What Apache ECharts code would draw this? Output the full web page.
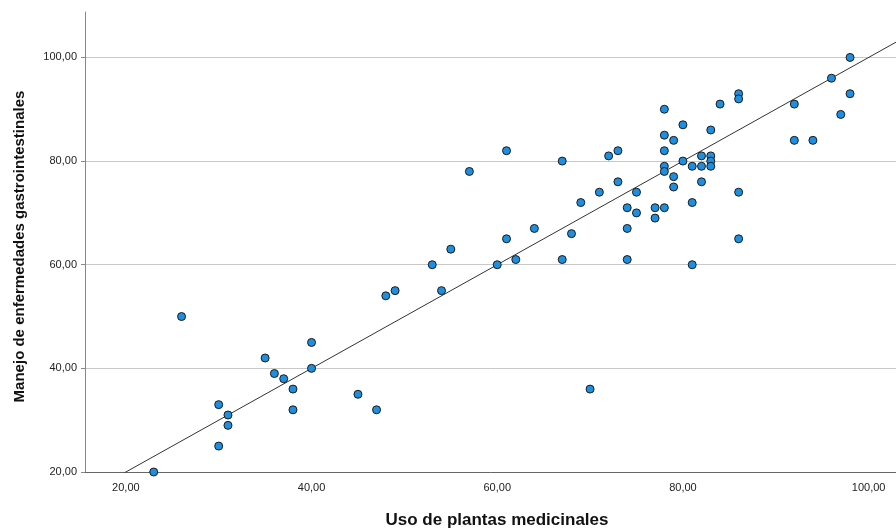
<!DOCTYPE html>
<html>
<head>
<meta charset="utf-8">
<script src="https://cdn.jsdelivr.net/npm/echarts@6/dist/echarts.min.js"></script>
<style>html,body{margin:0;padding:0;background:#fff}#c{width:896px;height:532px}</style>
</head>
<body>
<div id="c"></div>
<script>
// Data
const usoPlantas = [23,26,30,30,31,31,35,36,37,38,38,40,40,45,47,48,49,53,54,55,57,60,61,61,62,64,67,67,68,69,70,71,72,73,73,74,74,74,75,75,77,77,78,78,78,78,78,78,79,79,79,80,80,81,81,81,82,82,82,83,83,83,83,84,86,86,86,86,92,92,94,96,97,98,98];
const manejoGastro = [20,50,33,25,31,29,42,39,38,36,32,45,40,35,32,54,55,60,55,63,78,60,65,82,61,67,80,61,66,72,36,74,81,82,76,71,67,61,74,70,71,69,71,90,85,82,79,78,84,77,75,87,80,79,72,60,81,79,76,86,81,80,79,91,93,92,74,65,91,84,84,96,89,100,93];
const xTicks = [20,40,60,80,100];
const yTicks = [20,40,60,80,100];
const fitIntercept = 0;
const fitSlope = 1.0;
const xTitle = 'Uso de plantas medicinales';
const yTitle = 'Manejo de enfermedades gastrointestinales';

const xMin = 15.6, xMax = 102.95, yMin = 20, yMax = 108.77;
const points = usoPlantas.map((x, i) => [x, manejoGastro[i]]);
const fitLine = [[xMin, fitIntercept + fitSlope * xMin], [xMax, fitIntercept + fitSlope * xMax]];
const fmt = v => v.toFixed(2).replace('.', ',');

const chart = echarts.init(document.getElementById('c'), null, {renderer: 'canvas'});
chart.setOption({
  animation: false,
  backgroundColor: '#ffffff',
  grid: {left: 85, right: 0, top: 12, bottom: 60, containLabel: false, outerBoundsMode: 'none'},
  xAxis: {
    type: 'value', min: xMin, max: xMax,
    name: xTitle, nameLocation: 'middle', nameGap: 40,
    nameTextStyle: {fontFamily: 'Liberation Sans', fontSize: 17, fontWeight: 'bold', color: '#111', padding: [0, 0, 0, 13]},
    axisLine: {show: true, lineStyle: {color: '#666', width: 1}},
    axisTick: {show: false},
    axisLabel: {customValues: xTicks, formatter: fmt, fontFamily: 'Liberation Sans', fontSize: 11, color: '#222', margin: 10},
    splitLine: {show: false}
  },
  yAxis: {
    type: 'value', min: yMin, max: yMax,
    name: yTitle, nameLocation: 'middle', nameGap: 58, nameRotate: 90,
    nameTextStyle: {fontFamily: 'Liberation Sans', fontSize: 15, fontWeight: 'bold', color: '#111', padding: [0, 9, 0, 0]},
    axisLine: {show: true, lineStyle: {color: '#888', width: 1}},
    axisTick: {show: true, customValues: yTicks, length: 4, lineStyle: {color: '#888'}},
    axisLabel: {customValues: yTicks, formatter: fmt, fontFamily: 'Liberation Sans', fontSize: 11, color: '#222', margin: 8},
    splitLine: {show: true, lineStyle: {color: '#c8c8c8', width: 1}}
  },
  series: [
    {
      type: 'line', data: fitLine, symbol: 'none', clip: true, silent: true,
      lineStyle: {color: '#333', width: 1}, z: 3
    },
    {
      type: 'scatter', data: points, symbol: 'circle', symbolSize: 8,
      itemStyle: {color: '#1e8fe0', borderColor: '#1a1a1a', borderWidth: 1, opacity: 1}, z: 4
    }
  ]
});
</script>
</body>
</html>
